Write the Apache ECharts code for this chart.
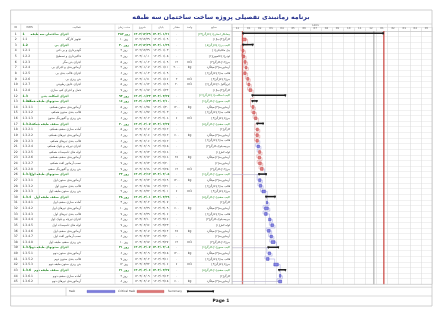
<!DOCTYPE html>
<html>
<head>
<meta charset="utf-8">
<title>Gantt</title>
<style>
  html, body { margin: 0; padding: 0; background: #fff; }
  #main { width: 448px; height: 317px; }
</style>
</head>
<body>
<div id="main"></div>
<script src="https://cdn.jsdelivr.net/npm/echarts@6/dist/echarts.min.js"></script>
<script>
// ---- data read from the schedule ----
var titleText = 'برنامه زمانبندی تفصیلی پروژه ساخت ساختمان سه طبقه';
var wbs = ['1', '1.1', '1.2', '1.2.1', '1.2.2', '1.2.3', '1.2.4', '1.2.5', '1.2.6', '1.2.7', '1.2.8',
    '1.3', '1.3.1', '1.3.1.1', '1.3.1.2', '1.3.1.3', '1.3.2', '1.3.2.1', '1.3.2.2', '1.3.2.3', '1.3.2.4',
    '1.3.2.5', '1.3.2.6', '1.3.2.7', '1.3.2.8', '1.3.3', '1.3.3.1', '1.3.3.2', '1.3.3.3', '1.3.4',
    '1.3.4.1', '1.3.4.2', '1.3.4.3', '1.3.4.4', '1.3.4.5', '1.3.4.6', '1.3.4.7', '1.3.4.8', '1.3.5',
    '1.3.5.1', '1.3.5.2', '1.3.5.3', '1.3.6', '1.3.6.1', '1.3.6.2'];
var names = ['اجرای ساختمان سه طبقه', 'تجهیز کارگاه', 'اجرای پی', 'گودبرداری و پی کنی', 'خاکبرداری و تسطیح',
    'اجرای بتن مگر', 'آرماتوربندی و اجرای پی', 'اجرای قالب بندی پی', 'بتن ریزی پی', 'اجرای عایق رطوبتی',
    'حمل و اجرای کف سازی', 'اجرای اسکلت بتنی', 'اجرای ستونهای طبقه همکف', 'آرماتوربندی ستون همکف',
    'قالب بندی ستون همکف', 'بتن ریزی و آکیورینگ ستون', 'اجرای سقف طبقه همکف', 'آماده سازی سقف همکف',
    'آرماتوربندی تیرهای همکف', 'قالب بندی تیرهای همکف', 'اجرای تیرچه و بلوک همکف', 'لوله های تاسیسات همکف',
    'آرماتوربندی سقف همکف', 'نصب آرماتور افت همکف', 'بتن ریزی و آکیورینگ سقف', 'اجرای ستونهای طبقه اول',
    'آرماتوربندی ستون اول', 'قالب بندی ستون اول', 'بتن ریزی ستون طبقه اول', 'اجرای سقف طبقه اول',
    'آماده سازی سقف اول', 'آرماتوربندی تیرهای اول', 'قالب بندی تیرهای اول', 'اجرای تیرچه و بلوک اول',
    'لوله های تاسیسات اول', 'آرماتوربندی سقف اول', 'نصب آرماتور افت اول', 'بتن ریزی سقف طبقه اول',
    'اجرای ستونهای طبقه دوم', 'آرماتوربندی ستون دوم', 'قالب بندی ستون دوم', 'بتن ریزی ستون طبقه دوم',
    'اجرای سقف طبقه دوم', 'آماده سازی سقف دوم', 'آرماتوربندی تیرهای دوم'];
// s = summary, c = critical task, t = task
var kinds = ['s', 'c', 's', 'c', 'c', 'c', 'c', 'c', 'c', 'c', 'c',
    's', 's', 'c', 'c', 'c', 's', 'c', 'c', 'c', 't', 'c', 'c', 'c', 'c',
    's', 't', 't', 't', 's', 't', 't', 't', 't', 't', 't', 't', 't',
    's', 't', 't', 't', 's', 't', 't'];
// days counted from the first day of the first timescale month
var startDay = [28, 28, 28, 28, 30, 33, 36, 32, 40, 43, 46, 53, 53, 54, 56, 61, 66, 66, 65, 65, 68, 72, 71,
    72, 77, 71, 72, 74, 81, 90, 93, 88, 88, 99, 105, 96, 103, 106, 96, 98, 93, 113, 125, 128, 126];
var endDay = [410, 38, 58, 32, 34, 38, 40, 38, 45, 48, 53, 146, 69, 59, 62, 67, 86, 71, 71, 71, 74, 77, 77,
    79, 84, 94, 78, 80, 90, 118, 96, 98, 95, 105, 112, 103, 109, 116, 127, 104, 100, 125, 146, 132, 134];
var qty = [0, 0, 0, 0, 0, 12, 2000, 0, 2, 20, 0, 0, 0, 1200, 0, 6, 0, 0, 600, 0, 0, 0, 48, 0, 12,
    0, 1200, 0, 6, 0, 0, 600, 0, 0, 0, 48, 0, 12, 0, 1200, 0, 6, 0, 0, 600];
var units = ['', '', '', '', '', 'm3', 'kg', '', 'm3', 'm3', '', '', '', 'kg', '', 'm3', '', '', 'kg', '', '',
    '', 'kg', '', 'm3', '', 'kg', '', 'm3', '', '', 'kg', '', '', '', 'kg', '', 'm3', '', 'kg', '', 'm3',
    '', '', 'kg'];
var resources = ['پیمانکار اصلی[۱]،کارگر[۲۴]', 'کارگر[۴]،بنا[۱]', 'اکیپ پی[۱]،کارگر[۸]', 'بیل مکانیکی[۱]',
    'لودر[۱]،کامیون[۲]', 'بتن[۱۲]،کارگر[۴]', 'آرماتوربند[۳]،میلگرد', 'قالب بند[۲]،کارگر[۲]', 'بتن[۲]،کارگر[۳]',
    'ایزوگام[۲۰]،کارگر[۲]', 'کارگر[۳]،بنا[۱]', 'اکیپ اسکلت[۱]،کارگر[۱۲]', 'اکیپ ستون[۱]،کارگر[۶]',
    'آرماتوربند[۳]،میلگرد', 'قالب بند[۲]،کارگر[۲]', 'بتن[۶]،کارگر[۴]', 'اکیپ سقف[۱]،کارگر[۸]', 'کارگر[۲]',
    'آرماتوربند[۳]،میلگرد', 'قالب بند[۲]،کارگر[۲]', 'تیرچه،بلوک،کارگر[۴]', 'لوله کش[۱]',
    'آرماتوربند[۲]،میلگرد', 'آرماتوربند[۲]', 'بتن[۱۲]،کارگر[۴]', 'اکیپ ستون[۱]،کارگر[۶]',
    'آرماتوربند[۳]،میلگرد', 'قالب بند[۲]،کارگر[۲]', 'بتن[۶]،کارگر[۴]', 'اکیپ سقف[۱]،کارگر[۸]', 'کارگر[۲]',
    'آرماتوربند[۳]،میلگرد', 'قالب بند[۲]،کارگر[۲]', 'تیرچه،بلوک،کارگر[۴]', 'لوله کش[۱]',
    'آرماتوربند[۲]،میلگرد', 'آرماتوربند[۲]', 'بتن[۱۲]،کارگر[۴]', 'اکیپ ستون[۱]،کارگر[۶]',
    'آرماتوربند[۳]،میلگرد', 'قالب بند[۲]،کارگر[۲]', 'بتن[۶]،کارگر[۴]', 'اکیپ سقف[۱]،کارگر[۸]', 'کارگر[۲]',
    'آرماتوربند[۳]،میلگرد'];
var monthLabels = ['12', '01', '02', '03', '04', '05', '06', '07', '08', '09', '10', '11', '12',
    '01', '02', '03', '04', '05'];
var yearLabel = '1403';
var yearSpan = [30, 420];
var markerDays = [28, 383, 410];
// predecessor -> successor (row numbers)
var links = [[2, 4], [4, 5], [5, 6], [6, 7], [7, 8], [8, 9], [9, 10], [10, 11], [11, 14], [14, 15], [15, 16],
    [16, 18], [18, 19], [19, 20], [20, 21], [21, 22], [22, 23], [23, 24], [24, 25], [25, 27], [27, 28], [28, 29],
    [29, 31], [31, 32], [32, 33], [33, 34], [34, 35], [35, 36], [36, 37], [37, 38], [38, 40], [40, 41], [41, 42],
    [42, 44], [44, 45]];
var leadRows = [26, 39, 45];
var headers = ['ID', 'WBS', 'فعالیت', 'مدت زمان', 'شروع', 'پایان', 'مقدار', 'واحد', 'منابع'];

// ---- helpers ----
var FONT = 'DejaVu Sans';
var GREEN = '#2c8a2c';
function fa(s) {
    return String(s).replace(/[0-9]/g, function (d) { return '۰۱۲۳۴۵۶۷۸۹'[d]; });
}
function pad(n) { return n < 10 ? '0' + n : '' + n; }
function jDate(day) {
    var m = Math.floor(day / 30), d = day % 30 + 1, y, mm;
    if (m === 0) { y = 1402; mm = 12; }
    else if (m <= 12) { y = 1403; mm = m; }
    else { y = 1404; mm = m - 12; }
    return fa(y + '/' + pad(mm) + '/' + pad(d));
}
var rowIds = wbs.map(function (w, i) { return String(i + 1); });

var TOP = 31, BOTTOM = 284.3, GX = 232, RIGHT = 432, LEFT = 10.6;
var colLines = [20.7, 38.3, 115, 132.7, 151.7, 170, 183.3, 196];
var headX = [15.7, 29.5, 76.6, 123.8, 142.2, 160.8, 176.6, 189.6, 214];

function txt(x, y, s, o) {
    o = o || {};
    return {
        type: 'text', x: x, y: y, silent: true, z: 10,
        style: {
            text: s, fill: o.fill || '#444', fontSize: o.size || 3, fontFamily: FONT,
            fontWeight: o.bold ? 'bold' : 'normal', align: o.align || 'center', verticalAlign: 'middle'
        }
    };
}
function ln(x1, y1, x2, y2, c, w) {
    return { type: 'line', silent: true, z: 9, shape: { x1: x1, y1: y1, x2: x2, y2: y2 },
        style: { stroke: c || '#c8c8c8', lineWidth: w || 0.6 } };
}

var gfx = [];
gfx.push({ type: 'rect', silent: true, z: 8, shape: { x: LEFT, y: 10, width: RIGHT - LEFT, height: 296 },
    style: { fill: 'none', stroke: '#c4c4c4', lineWidth: 0.8 } });
gfx.push(txt(221, 17, titleText, { fill: '#232f8c', size: 6.3, bold: true }));
gfx.push(ln(LEFT, 24, RIGHT, 24));
gfx.push(ln(LEFT, TOP, GX, TOP));
colLines.forEach(function (x) { gfx.push(ln(x, 24, x, BOTTOM, '#d0d0d0', 0.5)); });
gfx.push(ln(GX, 24, GX, BOTTOM, '#b8b8b8', 0.7));
headers.forEach(function (h, i) { gfx.push(txt(headX[i], 27.6, h, { fill: '#666', size: 2.8 })); });
gfx.push(ln(LEFT, BOTTOM, RIGHT, BOTTOM, '#c4c4c4', 0.6));
gfx.push(ln(LEFT, 287.2, RIGHT, 287.2, '#c4c4c4', 0.6));
gfx.push(ln(66, 287.2, 66, 296, '#c4c4c4', 0.6));
gfx.push(ln(LEFT, 296, RIGHT, 296, '#c4c4c4', 0.6));
// legend
gfx.push(txt(69, 291.5, 'Task', { align: 'left', size: 2.9 }));
gfx.push({ type: 'rect', silent: true, z: 10, shape: { x: 87, y: 290.3, width: 28, height: 2.4 },
    style: { fill: '#7c7cdc', stroke: '#4646b4', lineWidth: 0.3 } });
gfx.push(txt(118, 291.5, 'Critical Task', { align: 'left', size: 2.9 }));
gfx.push({ type: 'rect', silent: true, z: 10, shape: { x: 137, y: 290.3, width: 27, height: 2.4 },
    style: { fill: '#dc7676', stroke: '#b43c3c', lineWidth: 0.3 } });
gfx.push(txt(168, 291.5, 'Summary', { align: 'left', size: 2.9 }));
gfx.push({ type: 'rect', silent: true, z: 10, shape: { x: 187, y: 290.6, width: 27, height: 1.5 },
    style: { fill: '#1a1a1a' } });
gfx.push({ type: 'polygon', silent: true, z: 10, shape: { points: [[186.7, 290.6], [188.9, 290.6], [187.8, 293]] },
    style: { fill: '#1a1a1a' } });
gfx.push({ type: 'polygon', silent: true, z: 10, shape: { points: [[212.1, 290.6], [214.3, 290.6], [213.2, 293]] },
    style: { fill: '#1a1a1a' } });
gfx.push(txt(221, 301, 'Page 1', { fill: '#222', size: 4.4, bold: true }));

// ---- renderers ----
function renderRow(params, api) {
    var i = api.value(1);
    var y = api.coord([0, i])[1];
    var sum = kinds[i] === 's';
    var col = sum ? GREEN : '#3a3a3a';
    var o = { fill: col, size: 3, bold: sum };
    var q = qty[i];
    return {
        type: 'group',
        children: [
            txt(15.7, y, String(i + 1), { fill: '#333', size: 3 }),
            txt(22.5, y, wbs[i], { fill: col, size: 3, align: 'left', bold: sum }),
            txt(sum ? 68.5 : 81, y, names[i], { fill: col, size: 3, align: 'right', bold: sum }),
            txt(124, y, fa(endDay[i] - startDay[i]) + ' روز', o),
            txt(142.2, y, jDate(startDay[i]), o),
            txt(160.8, y, jDate(endDay[i]), o),
            txt(176.6, y, fa(q), { fill: '#3a3a3a', size: 3 }),
            txt(189.6, y, units[i], { fill: '#3a3a3a', size: 3 }),
            txt(230, y, fa(resources[i]), { fill: col, size: 2.8, align: 'right' })
        ]
    };
}

function renderBar(params, api) {
    var i = api.value(0);
    var a = api.coord([api.value(1), i]);
    var b = api.coord([api.value(2), i]);
    if (kinds[i] === 's') {
        var y = a[1] - 1.2;
        return {
            type: 'group',
            children: [
                { type: 'rect', shape: { x: a[0], y: y, width: b[0] - a[0], height: 1.5 }, style: { fill: '#1e1e1e' } },
                { type: 'polygon', shape: { points: [[a[0] - 0.3, y], [a[0] + 1.9, y], [a[0] + 0.8, y + 2.6]] },
                    style: { fill: '#1e1e1e' } },
                { type: 'polygon', shape: { points: [[b[0] - 1.9, y], [b[0] + 0.3, y], [b[0] - 0.8, y + 2.6]] },
                    style: { fill: '#1e1e1e' } }
            ]
        };
    }
    var crit = kinds[i] === 'c';
    return {
        type: 'rect',
        shape: { x: a[0], y: a[1] - 1.4, width: Math.max(b[0] - a[0], 1), height: 2.8 },
        style: { fill: crit ? '#e48a8a' : '#8a8ae4', stroke: crit ? '#bf3434' : '#3a3ab8', lineWidth: 0.5 }
    };
}

function renderLink(params, api) {
    var f = api.value(0), t = api.value(1);
    var pe = api.coord([endDay[f], f]);
    var ps = api.coord([startDay[t], t]);
    var pts;
    if (ps[0] >= pe[0] + 1) {
        pts = [pe, [ps[0] + 0.8, pe[1]], [ps[0] + 0.8, ps[1] - 1.4]];
    } else {
        var mid = (pe[1] + ps[1]) / 2;
        pts = [pe, [pe[0] + 1.5, pe[1]], [pe[0] + 1.5, mid], [ps[0] - 1.5, mid], [ps[0] - 1.5, ps[1]], ps];
    }
    var crit = kinds[f] === 'c' && kinds[t] === 'c';
    return { type: 'polyline', shape: { points: pts },
        style: { stroke: crit ? '#dc8c8c' : '#9c9ce0', lineWidth: 0.5, fill: 'none' } };
}

function renderLead(params, api) {
    var i = api.value(1);
    var a = api.coord([0, i]), b = api.coord([startDay[i], i]);
    return { type: 'line', shape: { x1: a[0], y1: a[1], x2: b[0], y2: b[1] },
        style: { stroke: '#b4b0c8', lineWidth: 0.6 } };
}

var markerColors = ['#c8423c', '#a8a8a8', '#c8423c'];
var markerWidths = [0.9, 1.1, 1.2];
function renderMarker(params, api) {
    var x = api.coord([api.value(0), 0])[0];
    var cs = params.coordSys;
    var j = params.dataIndex;
    return { type: 'line', shape: { x1: x, y1: cs.y, x2: x, y2: cs.y + cs.height },
        style: { stroke: markerColors[j], lineWidth: markerWidths[j] } };
}

var chart = echarts.init(document.getElementById('main'), null, { renderer: 'canvas' });
chart.setOption({
    backgroundColor: '#fff',
    animation: false,
    graphic: { elements: gfx },
    grid: [
        { left: LEFT, top: TOP, width: GX - LEFT, height: BOTTOM - TOP, outerBoundsMode: 'none' },
        { left: GX, top: TOP, width: RIGHT - GX, height: BOTTOM - TOP, outerBoundsMode: 'none' }
    ],
    xAxis: [
        { type: 'value', gridIndex: 0, min: 0, max: 1, show: false },
        {
            type: 'value', gridIndex: 1, min: 0, max: 540, interval: 30, position: 'bottom',
            axisLine: { show: false }, axisTick: { show: false }, axisLabel: { show: false },
            splitLine: { show: true, lineStyle: { color: '#d6d6d6', width: 0.5 } }
        },
        {
            type: 'category', gridIndex: 1, position: 'top', data: monthLabels,
            axisLine: { show: true, lineStyle: { color: '#bdbdbd', width: 0.6 } },
            axisTick: { show: true, length: 3.5, lineStyle: { color: '#cfcfcf', width: 0.5 } },
            axisLabel: { interval: 0, fontSize: 2.7, margin: 0.9, color: '#666', fontFamily: FONT },
            splitLine: { show: false }
        },
        {
            type: 'value', gridIndex: 1, position: 'top', offset: 3.5, min: 0, max: 540,
            axisLine: { show: true, lineStyle: { color: '#cfcfcf', width: 0.5 } },
            axisTick: { show: true, length: 3.5, customValues: yearSpan, lineStyle: { color: '#cfcfcf', width: 0.5 } },
            axisLabel: { customValues: [(yearSpan[0] + yearSpan[1]) / 2], formatter: function () { return yearLabel; },
                fontSize: 2.7, margin: 0.5, color: '#666', fontFamily: FONT },
            splitLine: { show: false }
        }
    ],
    yAxis: [0, 1].map(function (g) {
        return {
            type: 'category', gridIndex: g, data: rowIds, inverse: true,
            axisLine: { show: false }, axisTick: { show: false }, axisLabel: { show: false },
            splitLine: { show: true, interval: 0, lineStyle: { color: '#e2e2e2', width: 0.5 } }
        };
    }),
    series: [
        {
            type: 'custom', name: 'table', xAxisIndex: 0, yAxisIndex: 0, z: 5,
            data: rowIds.map(function (r, i) { return [0.5, i]; }),
            encode: { x: 0, y: 1 }, renderItem: renderRow
        },
        {
            type: 'custom', name: 'markers', xAxisIndex: 1, yAxisIndex: 1, z: 3,
            data: markerDays.map(function (d) { return [d, 0]; }),
            encode: { x: 0, y: 1 }, renderItem: renderMarker
        },
        {
            type: 'custom', name: 'lead', xAxisIndex: 1, yAxisIndex: 1, z: 3,
            data: leadRows.map(function (r) { return [0, r - 1]; }),
            encode: { x: 0, y: 1 }, renderItem: renderLead
        },
        {
            type: 'custom', name: 'links', xAxisIndex: 1, yAxisIndex: 1, z: 4,
            data: links.map(function (l) { return [l[0] - 1, l[1] - 1]; }),
            renderItem: renderLink
        },
        {
            type: 'custom', name: 'bars', xAxisIndex: 1, yAxisIndex: 1, z: 6,
            data: rowIds.map(function (r, i) { return [i, startDay[i], endDay[i]]; }),
            encode: { x: [1, 2], y: 0 }, renderItem: renderBar
        }
    ]
});
</script>
</body>
</html>
